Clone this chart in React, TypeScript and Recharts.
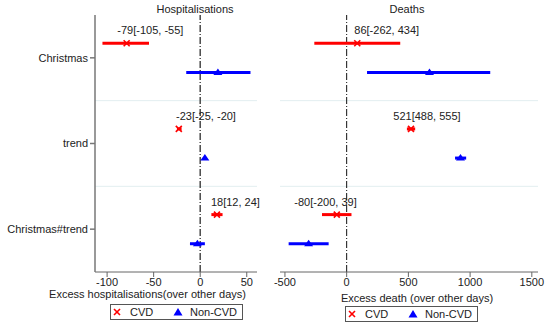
import { ScatterChart, Scatter, XAxis, YAxis, ErrorBar, ReferenceLine, Legend, Label } from 'recharts';

const FONT = '"Liberation Sans", Arial, Helvetica, sans-serif';

const rows = ['Christmas', 'trend', 'Christmas#trend'];
const seriesNames = ['CVD', 'Non-CVD'];
const seriesColors = ['#ff0000', '#0000ff'];

// Hospitalisations: estimate, lower, upper
const hospCvd = [-79, -23, 18];
const hospCvdLo = [-105, -25, 12];
const hospCvdHi = [-55, -20, 24];
const hospNon = [19, 5, -3];
const hospNonLo = [-15, 4, -11];
const hospNonHi = [54, 6, 5];
const hospLabelAt = [-89, -26, 11.5];
const hospTicks = [-100, -50, 0, 50];

// Deaths: estimate, lower, upper
const deathCvd = [86, 521, -80];
const deathCvdLo = [-262, 488, -200];
const deathCvdHi = [434, 555, 39];
const deathNon = [671, 922, -308];
const deathNonLo = [165, 878, -470];
const deathNonHi = [1163, 968, -146];
const deathLabelAt = [62, 378, -424];
const deathTicks = [-500, 0, 500, 1000, 1500];

type Pt = { x: number; y: number; err: number[]; text: string };

const rowY = (i: number) => rows.length - i - 0.5;

function build(est: number[], lo: number[], hi: number[], shift: number): Pt[] {
  return rows.map((_, i) => ({
    x: est[i],
    y: rowY(i) + shift,
    err: [est[i] - lo[i], hi[i] - est[i]],
    text: `${est[i]}[${lo[i]}, ${hi[i]}]`,
  }));
}

function labelsFor(pts: Pt[], at: number[]) {
  return pts.map((p, i) => ({ x: at[i], y: p.y, text: p.text }));
}

const CrossShape = (p: any) => {
  const { cx, cy } = p;
  const s = 3;
  return (
    <g stroke="#ff0000" strokeWidth={1.6}>
      <line x1={cx - s} y1={cy - s} x2={cx + s} y2={cy + s} />
      <line x1={cx - s} y1={cy + s} x2={cx + s} y2={cy - s} />
    </g>
  );
};

const TriShape = (p: any) => {
  const { cx, cy } = p;
  return <path d={`M${cx - 4.5},${cy + 2.5}L${cx + 4.5},${cy + 2.5}L${cx},${cy - 4}Z`} fill="#0000ff" />;
};

const TextShape = (p: any) => (
  <text x={p.cx} y={p.cy - 9} fontSize={11} fill="#222" fontFamily={FONT}>
    {p.payload.text}
  </text>
);

const LegendBox = () => {
  const markerAt = [5.7, 66.7];
  const textAt = [19, 79];
  return (
    <div
      style={{
        position: 'relative',
        width: 133,
        height: 16,
        border: '1px solid #555',
        boxSizing: 'border-box',
        background: '#fff',
        fontSize: 11,
        fontFamily: FONT,
        color: '#222',
      }}
    >
      {seriesNames.map((name, i) => (
        <div key={name}>
          <svg style={{ position: 'absolute', left: markerAt[i] - 5, top: 2 }} width={10} height={10}>
            {i === 0 ? (
              <g stroke={seriesColors[i]} strokeWidth={1.6}>
                <line x1={2} y1={2} x2={8} y2={8} />
                <line x1={2} y1={8} x2={8} y2={2} />
              </g>
            ) : (
              <path d="M0.5,8.5L9.5,8.5L5,1Z" fill={seriesColors[i]} />
            )}
          </svg>
          <span style={{ position: 'absolute', left: textAt[i], top: 0, lineHeight: '14px' }}>{name}</span>
        </div>
      ))}
    </div>
  );
};

type PanelProps = {
  title: string;
  xTitle: string;
  ticks: number[];
  domain: [number, number];
  cvd: Pt[];
  non: Pt[];
  labelAt: number[];
  left: number;
  width: number;
  showY: boolean;
  mLeft: number;
  mRight: number;
  titleX: number;
  xTitleDx: number;
  xTitleOffset: number;
  legendLeft: number;
  legendTop: number;
  zeroStroke: string;
  zeroWidth: number;
};

function Panel(p: PanelProps) {
  return (
    <div style={{ position: 'absolute', left: p.left, top: 0, width: p.width, height: 329 }}>
      <div
        style={{
          position: 'absolute',
          left: p.titleX - p.left - 60,
          width: 120,
          top: 3,
          textAlign: 'center',
          fontSize: 11,
          lineHeight: '13px',
          color: '#222',
        }}
      >
        {p.title}
      </div>
      <ScatterChart width={p.width} height={329} margin={{ top: 15, right: p.mRight, bottom: 27, left: p.mLeft }}>
        <XAxis
          type="number"
          dataKey="x"
          domain={p.domain}
          ticks={p.ticks}
          interval={0}
          height={30}
          stroke="#666"
          tickSize={5}
          tickMargin={1}
          tick={{ fontSize: 11, fill: '#222' }}
        >
          <Label
            value={p.xTitle}
            position="insideBottom"
            offset={p.xTitleOffset}
            dx={p.xTitleDx}
            style={{ fontSize: 11, fill: '#222' }}
          />
        </XAxis>
        <YAxis
          type="number"
          dataKey="y"
          domain={[0, rows.length]}
          ticks={rows.map((_, i) => rowY(i))}
          interval={0}
          tickFormatter={(v: number) => rows[Math.round(rows.length - 0.5 - v)]}
          width={95}
          hide={!p.showY}
          stroke="#777"
          strokeWidth={1.5}
          tickSize={5}
          tickMargin={2}
          tick={{ fontSize: 11, fill: '#222' }}
        />
        {rows.slice(1).map((_, i) => (
          <ReferenceLine key={i} y={i + 1} stroke="#e2eef0" strokeWidth={1} />
        ))}
        <ReferenceLine x={0} stroke={p.zeroStroke} strokeWidth={p.zeroWidth} strokeDasharray="7 2 1 2" />
        <Scatter name={seriesNames[0]} data={p.cvd} shape={CrossShape} isAnimationActive={false}>
          <ErrorBar dataKey="err" direction="x" width={0} stroke={seriesColors[0]} strokeWidth={3} />
        </Scatter>
        <Scatter name={seriesNames[1]} data={p.non} shape={TriShape} isAnimationActive={false}>
          <ErrorBar dataKey="err" direction="x" width={0} stroke={seriesColors[1]} strokeWidth={3} />
        </Scatter>
        <Scatter name="labels" data={labelsFor(p.cvd, p.labelAt)} shape={TextShape} isAnimationActive={false} />
        <Legend
          layout="horizontal"
          verticalAlign="middle"
          align="center"
          content={LegendBox}
          wrapperStyle={{ left: p.legendLeft, top: p.legendTop, width: 133, height: 16 }}
        />
      </ScatterChart>
    </div>
  );
}

export default function App() {
  return (
    <div
      style={{
        position: 'absolute',
        left: 0,
        top: 0,
        width: 550,
        height: 329,
        background: '#fff',
        fontFamily: FONT,
      }}
    >
      <Panel
        title="Hospitalisations"
        xTitle="Excess hospitalisations(over other days)"
        ticks={hospTicks}
        domain={[-113, 61]}
        cvd={build(hospCvd, hospCvdLo, hospCvdHi, 0.17)}
        non={build(hospNon, hospNonLo, hospNonHi, -0.17)}
        labelAt={hospLabelAt}
        left={0}
        width={270}
        showY
        mLeft={0}
        mRight={13}
        titleX={195}
        xTitleDx={-28.5}
        xTitleOffset={4}
        legendLeft={110}
        legendTop={304}
        zeroStroke="#4a4a4a"
        zeroWidth={1.5}
      />
      <Panel
        title="Deaths"
        xTitle="Excess death (over other days)"
        ticks={deathTicks}
        domain={[-540, 1550]}
        cvd={build(deathCvd, deathCvdLo, deathCvdHi, 0.17)}
        non={build(deathNon, deathNonLo, deathNonHi, -0.17)}
        labelAt={deathLabelAt}
        left={270}
        width={280}
        showY={false}
        mLeft={10}
        mRight={12}
        titleX={407}
        xTitleDx={8}
        xTitleOffset={0.5}
        legendLeft={75}
        legendTop={306}
        zeroStroke="#111"
        zeroWidth={1}
      />
    </div>
  );
}
